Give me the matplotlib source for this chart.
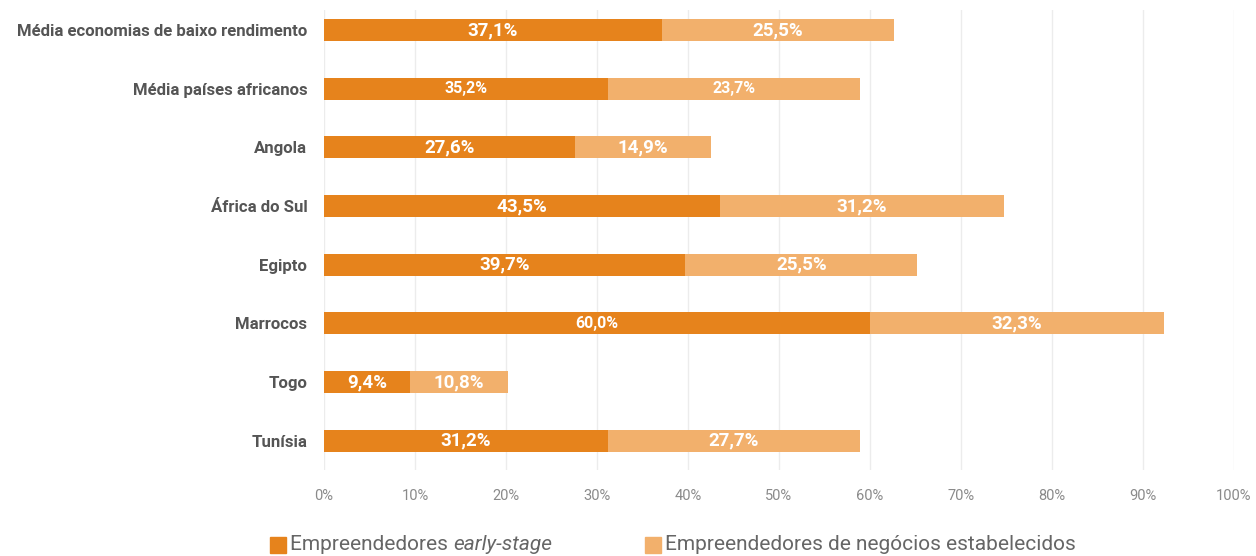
import matplotlib.pyplot as plt
from matplotlib.patches import Rectangle

plt.rcParams['font.family'] = ['Roboto', 'DejaVu Sans']

categories = ['Média economias de baixo rendimento', 'Média países africanos', 'Angola',
              'África do Sul', 'Egipto', 'Marrocos', 'Togo', 'Tunísia']
# bar lengths as drawn in the original
early = [37.1, 31.2, 27.6, 43.5, 39.7, 60.0, 9.4, 31.2]
established = [25.5, 27.7, 14.9, 31.2, 25.5, 32.3, 10.8, 27.7]
# printed labels
early_labels = ['37,1%', '35,2%', '27,6%', '43,5%', '39,7%', '60,0%', '9,4%', '31,2%']
established_labels = ['25,5%', '23,7%', '14,9%', '31,2%', '25,5%', '32,3%', '10,8%', '27,7%']
small_early = [1, 5]
small_established = [1]
ticks = list(range(0, 101, 10))

dark = '#E6831C'
light = '#F2B06C'

fig = plt.figure(figsize=(12.56, 5.56), dpi=100)
ax = fig.add_axes([324 / 1256, 1 - 470 / 556, 910 / 1256, 460 / 556])

y = list(range(len(categories)))
ax.barh(y, early, height=0.375, color=dark, zorder=2)
ax.barh(y, established, left=early, height=0.375, color=light, zorder=2)

for i in y:
    fs = 11.5 if i in small_early else 13.5
    ax.text(early[i] / 2, i, early_labels[i], ha='center', va='center',
            color='white', fontweight='bold', fontsize=fs, zorder=3)
    fs = 11.5 if i in small_established else 13.5
    ax.text(early[i] + established[i] / 2, i, established_labels[i], ha='center',
            va='center', color='white', fontweight='bold', fontsize=fs, zorder=3)

ax.set_xlim(0, 100)
ax.set_ylim(7.5, -0.34)
ax.set_yticks(y)
ax.set_yticklabels(categories, fontsize=12.1, fontweight='bold', color='#555555')
ax.set_xticks(ticks)
ax.set_xticklabels([f'{t}%' for t in ticks], fontsize=10.5, color='#8a8a8a')
ax.tick_params(length=0, pad=12, axis='y')
ax.tick_params(length=0, pad=14, axis='x')
ax.grid(axis='x', color='#ececec', linewidth=1, zorder=0)
for s in ax.spines.values():
    s.set_visible(False)

# legend
fig.canvas.draw()
r = fig.canvas.get_renderer()
ly = 1 - 545 / 556
sq = 16 / 1256
fig.patches.append(Rectangle((270 / 1256, ly - 8 / 556), sq, 16 / 556, color=dark,
                             transform=fig.transFigure, figure=fig))
t1 = fig.text(290 / 1256, ly, 'Empreendedores ', fontsize=15, color='#666666', va='center')
w = t1.get_window_extent(r).width
fig.text(290 / 1256 + w / 1256, ly, 'early-stage', fontsize=15, color='#666666',
         va='center', style='italic')
fig.patches.append(Rectangle((645 / 1256, ly - 8 / 556), sq, 16 / 556, color=light,
                             transform=fig.transFigure, figure=fig))
fig.text(665 / 1256, ly, 'Empreendedores de negócios estabelecidos', fontsize=15,
         color='#666666', va='center')

fig.savefig('out.png', dpi=100, facecolor='white')
